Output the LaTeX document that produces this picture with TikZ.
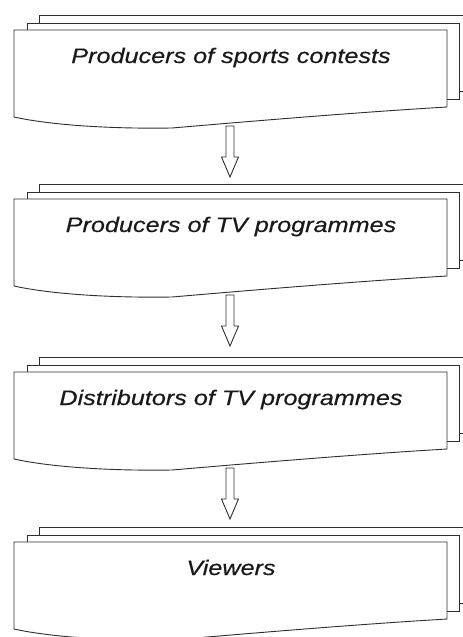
\documentclass[tikz,border=0pt]{standalone}
\usepackage{fontspec}
\newfontfamily\labfont[FakeStretch=1.2,FakeBold=0.4]{Liberation Sans}
\begin{document}
\begin{tikzpicture}[x=1pt,y=-1pt,
  box/.style={draw=black!82, fill=white, line width=0.9pt, line join=miter},
  blockarrow/.style={draw=black!82, fill=white, line width=0.9pt, line join=miter},
  lab/.style={font=\labfont\itshape\fontsize{21}{25}\selectfont, text=black!90, anchor=base, inner sep=0pt}]
\useasboundingbox (0,0) rectangle (463,637);
\clip (0,0) rectangle (463,637);
\foreach \t/\n/\s in {15/a/Producers of sports contests, 184/b/Producers of TV programmes, 357/c/Distributors of TV programmes, 527/d/Viewers}{
  \begin{scope}[yshift=-\t pt]
    \draw[box] (39,0) rectangle (475,76);
    \draw[box] (27,8) rectangle (459,84);
    \draw[box] (14,15) -- (447,15) -- (447,92)
      .. controls (380,96) and (300,102) .. (172,113)
      .. controls (110,114) and (50,110) .. (14,102) -- cycle;
    \node[lab] (\n) at (231,48) {\s};
    \coordinate (\n-bot) at (230,111);
  \end{scope}
}
\foreach \p in {a,b,c}{
  \draw[blockarrow] (\p-bot) ++(-4,0) -- ++(0,31) -- ++(-4.5,0) -- ++(8.5,20)
    -- ++(8.5,-20) -- ++(-4.5,0) -- ++(0,-31) -- cycle;
}
\end{tikzpicture}
\end{document}
